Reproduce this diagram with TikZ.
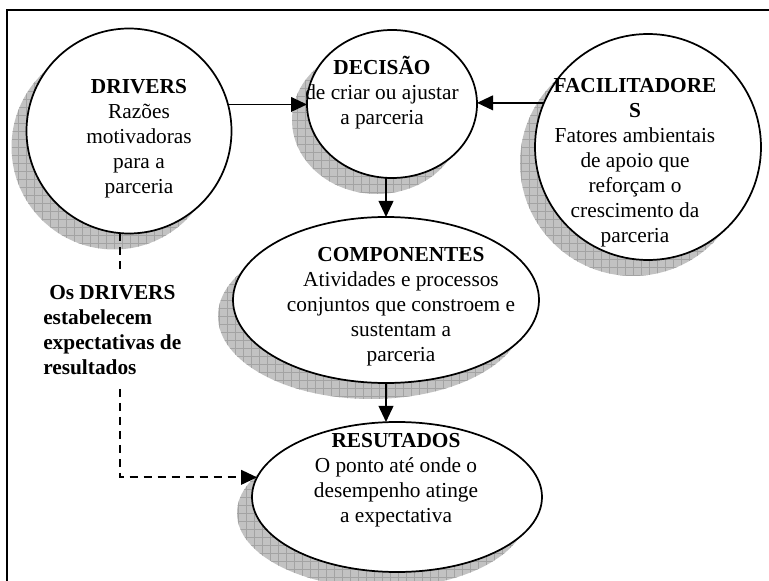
\documentclass[tikz,border=0pt]{standalone}
\usepackage{fontspec}
\setmainfont{Liberation Serif}
\usetikzlibrary{shapes.geometric,arrows.meta,calc}

% centred or left-aligned block of lines whose baseline is the first line
\newcommand\txtblock[2]{\begin{tabular}[t]{@{}#1@{}}#2\end{tabular}}

\tikzset{
  bubble/.style 2 args={ellipse, draw=black, line width=1.3pt, fill=white,
    inner sep=0pt, outer sep=0pt,
    minimum width=#1*0.75pt, minimum height=#2*0.75pt},
  hatched/.style 2 args={ellipse, inner sep=0pt, outer sep=0pt, fill=black!24,
    minimum width=#1*0.75pt, minimum height=#2*0.75pt,
    path picture={\draw[black!36, line width=0.45pt, step=6pt]
      (path picture bounding box.south west) grid (path picture bounding box.north east);}},
  arr/.style={line width=1.3pt, -{Triangle[length=12pt,width=11pt]}},
  dashln/.style={line width=1.3pt, dash pattern=on 6pt off 4.5pt},
  dasharr/.style={arr, dash pattern=on 6pt off 4.5pt},
  txt/.style={font=\fontsize{16}{18.75}\selectfont, inner sep=0pt, anchor=base},
}

\begin{document}
\begin{tikzpicture}[x=0.75pt, y=-0.75pt]
  \useasboundingbox (0,0) rectangle (769,581);

  % page frame
  \draw[line width=1.6pt] (7,581) -- (7,10) -- (769,10);

  % hatched shadows
  \node[hatched={205}{205}] (drvsh)  at (114,147) {};
  \node[hatched={170}{148}] (decsh)  at (377,120) {};
  \node[hatched={226}{226}] (facsh)  at (633,163) {};
  \node[hatched={306}{166}] (compsh) at (371,316) {};
  \node[hatched={290}{150}] (ressh)  at (382,513) {};

  % main shapes
  \node[bubble={205}{205}] (drv)  at (129,131) {};
  \node[bubble={170}{148}] (dec)  at (392,104) {};
  \node[bubble={226}{226}] (fac)  at (648,147) {};
  \node[bubble={306}{166}] (comp) at (386,300) {};
  \node[bubble={290}{150}] (res)  at (397,497) {};

  % texts
  \node[txt] (drvtxt) at (139,94)
    {\txtblock{c}{\textbf{DRIVERS}\\Razões\\motivadoras\\para a\\parceria}};
  \node[txt] (dectxt) at (382,75)
    {\txtblock{c}{\textbf{DECISÃO}\\de criar ou ajustar\\a parceria}};
  \node[txt] (factxt) at (635,93)
    {\txtblock{c}{\textbf{FACILITADORE}\\\textbf{S}\\Fatores ambientais\\de apoio que\\reforçam o\\crescimento da\\parceria}};
  \node[txt] (comptxt) at (401,262)
    {\txtblock{c}{\textbf{COMPONENTES}\\Atividades e processos\\conjuntos que constroem e\\sustentam a\\parceria}};
  \node[txt] (restxt) at (396,448)
    {\txtblock{c}{\textbf{RESUTADOS}\\O ponto até onde o\\desempenho atinge\\a expectativa}};
  \node[txt, anchor=base west] (annot) at (43,300)
    {\bfseries\txtblock{l}{\hspace*{4.5pt}Os DRIVERS\\estabelecem\\expectativas de\\resultados}};

  % connectors
  \draw[arr] (drv.15) -- (drv.15 -| dec.west);
  \draw[arr] (fac.157.6) -- (fac.157.6 -| dec.east);
  \draw[arr] (dec.south -| comp.north) -- (comp.north);
  \draw[arr] (comp.south) -- (comp.south |- res.north);
  \draw[dashln] (drv.265) -- ($(drv.265 |- annot.north)+(0,-12)$);
  \draw[dasharr] ($(drv.265 |- annot.south)+(0,6)$) |- (res.172);
\end{tikzpicture}
\end{document}
